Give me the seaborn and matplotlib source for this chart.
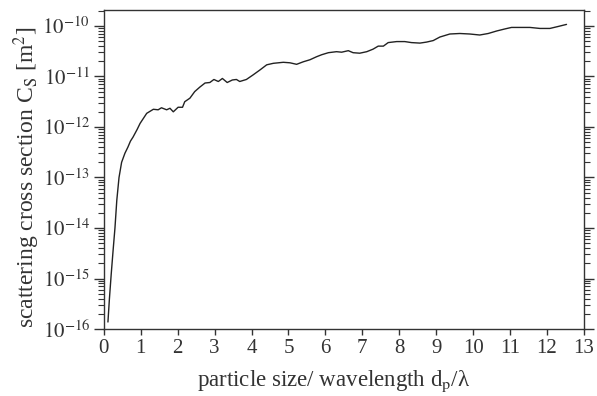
import numpy as np
import pandas as pd
import matplotlib
matplotlib.use("Agg")
import matplotlib.pyplot as plt
import seaborn as sns
from matplotlib import ticker

# particle size / wavelength and log10 of scattering cross section
size_ratio = [0.11, 0.15, 0.2, 0.25, 0.3, 0.35, 0.41, 0.48, 0.57, 0.65, 0.72, 0.79, 0.9,
              0.98, 1.16, 1.34, 1.47, 1.56, 1.70, 1.79, 1.88, 2.01, 2.13, 2.19, 2.33,
              2.46, 2.60, 2.74, 2.87, 2.98, 3.10, 3.21, 3.34, 3.48, 3.59, 3.68, 3.86,
              4.04, 4.23, 4.41, 4.59, 4.86, 5.04, 5.22, 5.40, 5.58, 5.76, 5.90, 6.08,
              6.30, 6.44, 6.62, 6.75, 6.93, 7.12, 7.29, 7.43, 7.57, 7.70, 7.93, 8.15,
              8.33, 8.56, 8.74, 8.92, 9.10, 9.37, 9.64, 9.91, 10.18, 10.41, 10.64,
              10.86, 11.04, 11.27, 11.54, 11.81, 12.08, 12.31, 12.53]
log_cs = [-15.86, -15.4, -14.9, -14.44, -14.0, -13.45, -13.0, -12.7, -12.52, -12.4,
          -12.28, -12.2, -12.05, -11.93, -11.73, -11.65, -11.66, -11.62, -11.66, -11.63,
          -11.70, -11.61, -11.61, -11.50, -11.43, -11.30, -11.21, -11.13, -11.12, -11.06,
          -11.10, -11.04, -11.12, -11.07, -11.06, -11.10, -11.06, -10.97, -10.87, -10.77,
          -10.74, -10.72, -10.73, -10.76, -10.71, -10.67, -10.61, -10.57, -10.53, -10.51,
          -10.52, -10.49, -10.53, -10.54, -10.51, -10.46, -10.40, -10.40, -10.33, -10.31,
          -10.31, -10.33, -10.34, -10.32, -10.29, -10.22, -10.16, -10.15, -10.16, -10.18,
          -10.15, -10.10, -10.06, -10.03, -10.03, -10.03, -10.05, -10.05, -10.01, -9.97]

# y tick decades
decades = [-16, -15, -14, -13, -12, -11, -10]

df = pd.DataFrame({"ratio": size_ratio, "cs": 10.0 ** np.array(log_cs)})

sns.set_theme(style="ticks")
plt.rcParams["font.family"] = ["Liberation Serif", "DejaVu Serif"]
plt.rcParams["mathtext.fontset"] = "stix"

dark = "#333333"
fig = plt.figure(figsize=(5.97, 3.96), dpi=100)
ax = fig.add_axes([0.174, 0.169, 0.804, 0.806])

sns.lineplot(data=df, x="ratio", y="cs", ax=ax, color="#222222", linewidth=1.0)

ax.set_yscale("log")
ax.set_xlim(0, 13)
ax.set_ylim(1e-16, 10 ** -9.683)
ax.xaxis.set_major_locator(ticker.MultipleLocator(1))
ax.yaxis.set_major_locator(ticker.FixedLocator([10.0 ** d for d in decades]))
minor = [m * 10.0 ** d for d in decades[:-1] for m in range(2, 10)]
minor += [m * 1e-10 for m in range(2, 3)]
ax.yaxis.set_minor_locator(ticker.FixedLocator(minor))
ax.yaxis.set_minor_formatter(ticker.NullFormatter())
ax.yaxis.set_major_formatter(ticker.FixedFormatter([r"$10^{%d}$" % d for d in decades]))

for s in ax.spines.values():
    s.set_color(dark)
    s.set_linewidth(1.0)

ax.tick_params(axis="y", which="major", direction="out", length=7, width=1,
               colors=dark, labelsize=15, right=True, left=True, pad=3)
ax.tick_params(axis="y", which="minor", direction="out", length=4, width=0.8,
               colors=dark, right=True, left=True)
ax.tick_params(axis="x", which="major", direction="out", length=4, width=1,
               colors=dark, labelsize=15, top=False, pad=3)

ax.set_xlabel(r"particle size/ wavelength d$_\mathrm{p}$/λ", fontsize=16.5, color=dark)
ax.xaxis.set_label_coords(0.479, -0.125)
ax.set_ylabel(r"scattering cross section C$_\mathrm{S}$ [m$^2$]", fontsize=17, color=dark)
ax.yaxis.set_label_coords(-0.128, 0.475)

fig.savefig("out.png", dpi=100)
